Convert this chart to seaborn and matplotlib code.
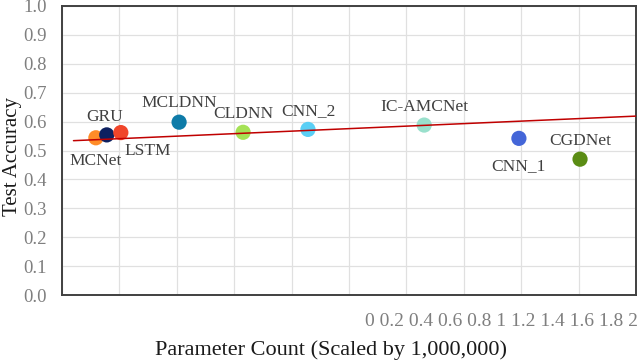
import numpy as np
import pandas as pd
import seaborn as sns
from matplotlib import pyplot as plt

# Model results (params scaled by 1,000,000)
models = ['MCNet', 'GRU', 'LSTM', 'MCLDNN', 'CLDNN', 'CNN_2', 'IC-AMCNet', 'CNN_1', 'CGDNet']
params = [0.118, 0.156, 0.205, 0.408, 0.631, 0.857, 1.262, 1.592, 1.805]
accuracy = [0.544, 0.554, 0.562, 0.598, 0.563, 0.573, 0.588, 0.542, 0.470]
colors = ['#FF8C28', '#0D2060', '#F0452A', '#0E7BA8', '#A5E255',
          '#5ACFF5', '#99E0CC', '#4466D8', '#5A8C14']

# trend line end points
trend_x = [0.04, 2.0]
trend_y = [0.534, 0.619]

x_ticks = [0, 0.2, 0.4, 0.6, 0.8, 1, 1.2, 1.4, 1.6, 1.8, 2]
y_ticks = [0.0, 0.1, 0.2, 0.3, 0.4, 0.5, 0.6, 0.7, 0.8, 0.9, 1.0]

# label offsets in pixels (dx, dy)
offsets = [(0, -23), (-2, 18), (27, -18), (0, 19), (0, 18), (0, 18), (0, 18), (0, -28), (0, 18)]

df = pd.DataFrame({'model': models, 'params': params, 'accuracy': accuracy})

sns.set_style('white')
plt.rcParams['font.family'] = ['Liberation Serif', 'DejaVu Serif']

fig = plt.figure(figsize=(6.4, 3.64), dpi=100)
ax = fig.add_axes([62 / 640, 1 - 295 / 364, 574 / 640, 289 / 364])

sns.scatterplot(data=df, x='params', y='accuracy', hue='model', palette=colors,
                s=120, linewidth=0, legend=False, ax=ax, zorder=3)
sns.lineplot(x=trend_x, y=trend_y, color='#C00000', linewidth=1.1, ax=ax, zorder=4)

for name, x, y, (dx, dy) in zip(models, params, accuracy, offsets):
    ax.annotate(name, (x, y), xytext=(dx, dy), textcoords='offset pixels',
                ha='center', va='center', fontsize=12.5, color='#404040')

ax.set_xlim(0, 2)
ax.set_ylim(0, 1)
ax.set_xticks(x_ticks)
ax.set_xticklabels([])
ax.set_yticks(y_ticks)
ax.set_yticklabels([f'{v:.1f}' for v in y_ticks], fontsize=13.5, color='#7F7F7F')
ax.tick_params(length=0, pad=11)
ax.grid(True, color='#E0E0E0', linewidth=0.9)
ax.set_axisbelow(True)
for sp in ax.spines.values():
    sp.set_color('#404040')
    sp.set_linewidth(1.4)
ax.set_xlabel('')
ax.set_ylabel('')

# Excel squashed the x tick labels into the corner
fig.text(638 / 640, 1 - 321 / 364, ' '.join(str(t) for t in x_ticks),
         ha='right', va='center', fontsize=14, color='#7F7F7F')
fig.text(331 / 640, 1 - 350 / 364, 'Parameter Count (Scaled by 1,000,000)',
         ha='center', va='center', fontsize=16, color='#1A1A1A')
fig.text(13 / 640, 1 - 157 / 364, 'Test Accuracy', rotation=90,
         ha='center', va='center', fontsize=15, color='#1A1A1A')

fig.savefig('out.png', dpi=100)
